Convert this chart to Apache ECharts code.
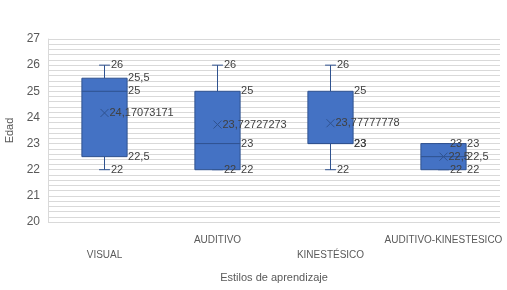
<!DOCTYPE html>
<html>
<head>
<meta charset="utf-8">
<script src="https://cdn.jsdelivr.net/npm/echarts@6/dist/echarts.min.js"></script>
<style>
  html, body { margin: 0; padding: 0; background: #fff; }
  #chart { width: 507px; height: 290px; }
</style>
</head>
<body>
<div id="chart"></div>
<script>
var categories = ['VISUAL', 'AUDITIVO', 'KINESTÉSICO', 'AUDITIVO-KINESTESICO']
var minVals = [22, 22, 22, 22]
var q1Vals = [22.5, 22, 23, 22]
var medianVals = [25, 23, 23, 22.5]
var q3Vals = [25.5, 25, 25, 23]
var maxVals = [26, 26, 26, 23]
var meanVals = [24.17073171, 23.72727273, 23.77777778, 22.5]
var yTicks = [20, 21, 22, 23, 24, 25, 26, 27]

var boxFill = '#4472C4'
var boxLine = '#2F528F'
var labelColor = '#404040'
var font = 'Liberation Sans'

function fmt(v) {
  return String(v).replace('.', ',')
}

var rows = categories.map(function (c, i) {
  return [i, minVals[i], q1Vals[i], medianVals[i], q3Vals[i], maxVals[i], meanVals[i]]
})

function txt(s, x, y) {
  return {
    type: 'text',
    style: {
      text: s, x: x, y: y, fill: labelColor,
      fontSize: 11, fontFamily: font, align: 'left', verticalAlign: 'middle'
    }
  }
}

function seg(x1, y1, x2, y2, color) {
  return {
    type: 'line',
    shape: { x1: x1, y1: y1, x2: x2, y2: y2 },
    style: { stroke: color, lineWidth: 1 }
  }
}

function renderBox(params, api) {
  var i = api.value(0)
  var cx = api.coord([i, 0])[0]
  var yMin = api.coord([i, api.value(1)])[1]
  var yQ1 = api.coord([i, api.value(2)])[1]
  var yMed = api.coord([i, api.value(3)])[1]
  var yQ3 = api.coord([i, api.value(4)])[1]
  var yMax = api.coord([i, api.value(5)])[1]
  var yMean = api.coord([i, api.value(6)])[1]
  var bw = api.size([1, 0])[0] * 0.4
  var cap = bw * 0.12
  var right = cx + bw / 2
  var m = 4

  return {
    type: 'group',
    children: [
      // whiskers
      seg(cx, yMax, cx, yQ3, boxLine),
      seg(cx, yQ1, cx, yMin, boxLine),
      seg(cx - cap, yMax, cx + cap, yMax, boxLine),
      seg(cx - cap, yMin, cx + cap, yMin, boxLine),
      {
        type: 'rect',
        shape: { x: cx - bw / 2, y: yQ3, width: bw, height: yQ1 - yQ3 },
        style: { fill: boxFill, stroke: boxLine, lineWidth: 1 }
      },
      seg(cx - bw / 2, yMed, right, yMed, boxLine),
      // mean marker (x)
      seg(cx - m, yMean - m, cx + m, yMean + m, boxLine),
      seg(cx - m, yMean + m, cx + m, yMean - m, boxLine),
      // labels
      txt(fmt(api.value(5)), cx + cap + 1, yMax),
      txt(fmt(api.value(4)), right + 1, yQ3),
      txt(fmt(api.value(3)), right + 1, yMed),
      txt(fmt(api.value(2)), right + 1, yQ1),
      txt(fmt(api.value(1)), cx + cap + 1, yMin),
      txt(fmt(api.value(6)), cx + 5, yMean)
    ]
  }
}

var chart = echarts.init(document.getElementById('chart'))

chart.setOption({
  animation: false,
  textStyle: { fontFamily: font },
  grid: { left: 48, right: 7, top: 39, bottom: 68, outerBoundsMode: 'none', containLabel: false },
  xAxis: {
    type: 'category',
    data: categories,
    name: 'Estilos de aprendizaje',
    nameLocation: 'middle',
    nameGap: 50,
    nameTextStyle: { color: '#595959', fontSize: 11 },
    axisLine: { show: false },
    axisTick: { show: false },
    axisLabel: {
      interval: 0,
      color: '#595959',
      fontSize: 10,
      lineHeight: 15,
      margin: 11,
      formatter: function (v, idx) {
        return idx % 2 === 0 ? '\n' + v : v
      }
    }
  },
  yAxis: {
    type: 'value',
    min: yTicks[0],
    max: yTicks[yTicks.length - 1],
    interval: 1,
    name: 'Edad',
    nameLocation: 'middle',
    nameGap: 30,
    nameTextStyle: { color: '#595959', fontSize: 11 },
    axisLine: { show: true, lineStyle: { color: '#d9d9d9' } },
    axisTick: { show: false },
    axisLabel: { color: '#595959', fontSize: 12, margin: 8 },
    splitLine: { lineStyle: { color: '#d9d9d9' } },
    minorTick: { show: false, splitNumber: 5 },
    minorSplitLine: { show: true, lineStyle: { color: '#d9d9d9' } }
  },
  series: [
    {
      type: 'custom',
      renderItem: renderBox,
      encode: { x: 0, y: [1, 2, 3, 4, 5, 6] },
      clip: false,
      data: rows
    }
  ]
})
</script>
</body>
</html>
